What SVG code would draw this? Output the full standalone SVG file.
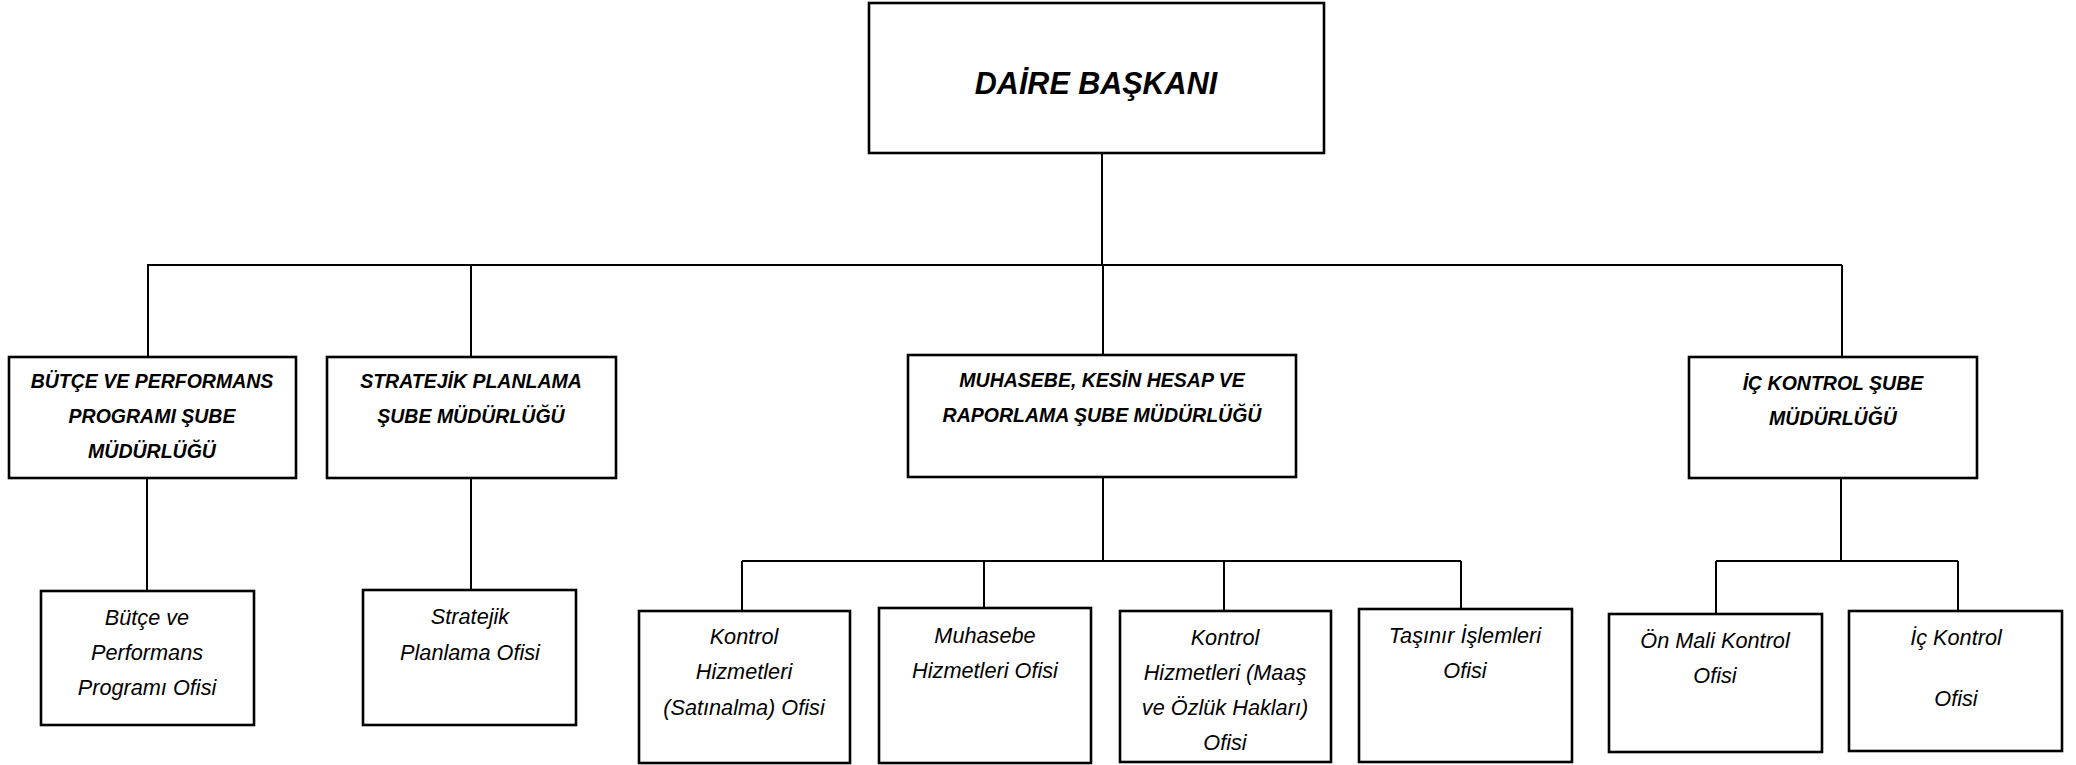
<svg xmlns="http://www.w3.org/2000/svg" width="2076" height="765" viewBox="0 0 2076 765">
<style>
.box{fill:#fff;stroke:#000;stroke-width:2.6}
.ln{fill:none;stroke:#000;stroke-width:2}
.t0{font-family:"Liberation Sans",Arial,sans-serif;font-weight:bold;font-style:italic;font-size:30.5px;text-anchor:middle;fill:#000}
.t1{font-family:"Liberation Sans",Arial,sans-serif;font-weight:bold;font-style:italic;font-size:19.5px;text-anchor:middle;fill:#000}
.t2{font-family:"Liberation Sans",Arial,sans-serif;font-style:italic;font-size:21.7px;text-anchor:middle;fill:#000}
</style>
<rect width="2076" height="765" fill="#fff"/>
<g id="connectors">
<path class="ln" d="M1102 153V265M147 265H1842M148 265V357M471 265V357M1103 265V355M1842 265V357"/>
<path class="ln" d="M147 478V591M471 478V590"/>
<path class="ln" d="M1103 477V561M742 561H1461M742 561V611M984 561V608M1224 561V611M1461 561V609"/>
<path class="ln" d="M1841 478V561M1716 561H1958M1716 561V614M1958 561V611"/>
</g>
<g id="daire-baskani">
<rect class="box" x="869" y="3" width="455" height="150"/>
<text class="t0" x="1096" y="94">DAİRE BAŞKANI</text>
</g>
<g id="butce-sube">
<rect class="box" x="9" y="357" width="287" height="121"/>
<text class="t1" x="152" y="388">BÜTÇE VE PERFORMANS</text>
<text class="t1" x="152" y="423">PROGRAMI ŞUBE</text>
<text class="t1" x="152" y="458">MÜDÜRLÜĞÜ</text>
</g>
<g id="stratejik-sube">
<rect class="box" x="327" y="357" width="289" height="121"/>
<text class="t1" x="471" y="388">STRATEJİK PLANLAMA</text>
<text class="t1" x="471" y="423">ŞUBE MÜDÜRLÜĞÜ</text>
</g>
<g id="muhasebe-sube">
<rect class="box" x="908" y="355" width="388" height="122"/>
<text class="t1" x="1102" y="387">MUHASEBE, KESİN HESAP VE</text>
<text class="t1" x="1102" y="422">RAPORLAMA ŞUBE MÜDÜRLÜĞÜ</text>
</g>
<g id="ic-kontrol-sube">
<rect class="box" x="1689" y="357" width="288" height="121"/>
<text class="t1" x="1833" y="390">İÇ KONTROL ŞUBE</text>
<text class="t1" x="1833" y="425">MÜDÜRLÜĞÜ</text>
</g>
<g id="butce-ofisi">
<rect class="box" x="41" y="591" width="213" height="134"/>
<text class="t2" x="147" y="625">Bütçe ve</text>
<text class="t2" x="147" y="660">Performans</text>
<text class="t2" x="147" y="695">Programı Ofisi</text>
</g>
<g id="stratejik-ofisi">
<rect class="box" x="363" y="590" width="213" height="135"/>
<text class="t2" x="470" y="624">Stratejik</text>
<text class="t2" x="470" y="660">Planlama Ofisi</text>
</g>
<g id="kontrol-satinalma">
<rect class="box" x="639" y="611" width="211" height="152"/>
<text class="t2" x="744" y="644">Kontrol</text>
<text class="t2" x="744" y="679">Hizmetleri</text>
<text class="t2" x="744" y="715">(Satınalma) Ofisi</text>
</g>
<g id="muhasebe-ofisi">
<rect class="box" x="879" y="608" width="212" height="155"/>
<text class="t2" x="985" y="643">Muhasebe</text>
<text class="t2" x="985" y="678">Hizmetleri Ofisi</text>
</g>
<g id="kontrol-maas">
<rect class="box" x="1120" y="611" width="211" height="151"/>
<text class="t2" x="1225" y="645">Kontrol</text>
<text class="t2" x="1225" y="680">Hizmetleri (Maaş</text>
<text class="t2" x="1225" y="715">ve Özlük Hakları)</text>
<text class="t2" x="1225" y="750">Ofisi</text>
</g>
<g id="tasinir-ofisi">
<rect class="box" x="1359" y="609" width="213" height="153"/>
<text class="t2" x="1465" y="643">Taşınır İşlemleri</text>
<text class="t2" x="1465" y="678">Ofisi</text>
</g>
<g id="on-mali-kontrol">
<rect class="box" x="1609" y="614" width="213" height="138"/>
<text class="t2" x="1715" y="648">Ön Mali Kontrol</text>
<text class="t2" x="1715" y="683">Ofisi</text>
</g>
<g id="ic-kontrol-ofisi">
<rect class="box" x="1849" y="611" width="213" height="140"/>
<text class="t2" x="1956" y="645">İç Kontrol</text>
<text class="t2" x="1956" y="706">Ofisi</text>
</g>
</svg>
